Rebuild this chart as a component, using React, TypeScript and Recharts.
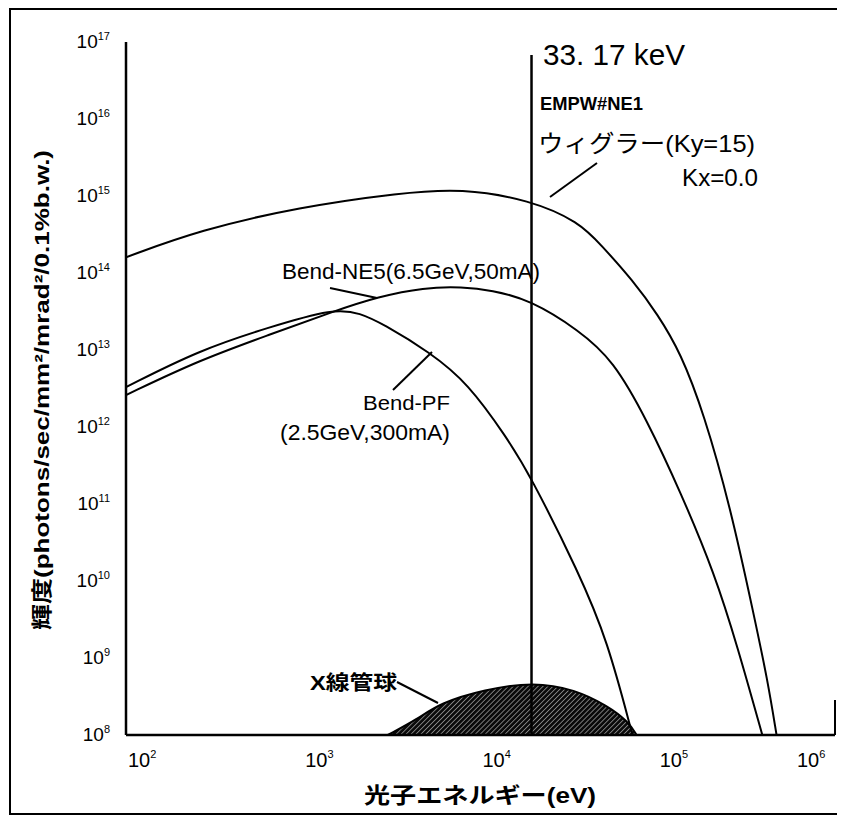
import {
  ComposedChart,
  Line,
  Area,
  XAxis,
  YAxis,
  ReferenceLine,
} from "recharts";

// photon energy (eV) and brightness values
const wigglerE = [100, 260, 950, 3550, 7800, 19000, 36000, 48000, 72000, 100000, 135000, 182000, 257000, 347000, 417000, 468000];
const wigglerB = [1.6e14, 3.6e14, 7.2e14, 1.1e15, 1.26e15, 8.9e14, 4.6e14, 2.3e14, 8.1e13, 2.9e13, 9.1e12, 1.5e12, 9.1e10, 3.8e9, 5.1e8, 1e8];

const ne5E = [100, 260, 630, 1550, 2630, 4800, 7900, 11500, 19000, 36000, 56000, 87000, 135000, 209000, 282000, 389000];
const ne5B = [2.6e12, 7.4e12, 1.55e13, 3.3e13, 4.9e13, 6.5e13, 6.6e13, 6.0e13, 4.5e13, 1.8e13, 7.4e12, 1.23e12, 1.4e11, 1.26e10, 1.4e9, 1e8];

const pfE = [100, 260, 630, 1500, 2100, 2800, 5200, 8500, 14000, 19000, 36000, 52000, 72000];
const pfB = [3.3e12, 1.0e13, 1.95e13, 3.5e13, 3.0e13, 2.2e13, 9.3e12, 3.7e12, 7.4e11, 2.4e11, 1.26e10, 1.7e9, 1e8];

const tubeE = [3000, 4400, 5900, 10500, 20000, 34000, 52000, 68000, 76000];
const tubeB = [1e8, 1.6e8, 2.6e8, 3.9e8, 4.9e8, 3.9e8, 2.4e8, 1.5e8, 1e8];

const energyTicks = [1e2, 1e3, 1e4, 1e5, 1e6];
const brightTicks = [1e8, 1e9, 1e10, 1e11, 1e12, 1e13, 1e14, 1e15, 1e16, 1e17];

const markerE = 19400; // "33.17 keV" line as drawn

const zip = (es: number[], bs: number[]) => es.map((e, i) => ({ e, b: bs[i] }));
const wigglerData = zip(wigglerE, wigglerB);
const ne5Data = zip(ne5E, ne5B);
const pfData = zip(pfE, pfB);
const tubeData = zip(tubeE, tubeB);

const font = "'Liberation Sans', Arial, 'Noto Sans CJK JP', sans-serif";

function XTick(props: any) {
  const { x, y, payload } = props;
  const exp = Math.round(Math.log10(payload.value));
  const tx = exp === 6 ? x - 38 : x + 2;
  return (
    <text x={tx} y={y + 24} fontSize={20} fontFamily={font} fill="#000">
      10
      <tspan dy={-9} fontSize={11}>{exp}</tspan>
    </text>
  );
}

function YTick(props: any) {
  const { x, y, payload } = props;
  const exp = Math.round(Math.log10(payload.value));
  return (
    <text x={x - 8} y={y + 6} fontSize={19} fontFamily={font} fill="#000" textAnchor="end">
      10
      <tspan dy={-8} fontSize={11}>{exp}</tspan>
    </text>
  );
}

export default function App() {
  return (
    <div style={{ position: "relative", width: 832, height: 808, background: "#fff" }}>
      <ComposedChart
        width={832}
        height={808}
        margin={{ top: 34, right: 5, bottom: 41, left: 0 }}
      >
        <defs>
          <pattern
            id="hatch"
            width="3.5"
            height="3.5"
            patternUnits="userSpaceOnUse"
            patternTransform="rotate(45)"
          >
            <rect width="3.5" height="3.5" fill="#0a0a0a" />
            <line x1="0" y1="0" x2="0" y2="3.5" stroke="#fff" strokeWidth={0.9} />
          </pattern>
        </defs>

        <XAxis
          dataKey="e"
          type="number"
          scale="log"
          domain={[1e2, 1e6]}
          ticks={energyTicks}
          interval={0}
          allowDataOverflow
          height={40}
          tickLine={false}
          axisLine={{ stroke: "#000", strokeWidth: 2.5 }}
          tick={XTick}
        />
        <YAxis
          type="number"
          scale="log"
          domain={[1e8, 1e17]}
          ticks={brightTicks}
          interval={0}
          allowDataOverflow
          width={118}
          tickLine={false}
          axisLine={{ stroke: "#000", strokeWidth: 2.5 }}
          tick={YTick}
        />

        <Area
          data={tubeData}
          dataKey="b"
          type="basis"
          baseValue={1e8}
          fill="url(#hatch)"
          fillOpacity={1}
          stroke="#000"
          strokeWidth={2}
          isAnimationActive={false}
        />
        <Line data={wigglerData} dataKey="b" type="basis" dot={false} stroke="#000" strokeWidth={2} isAnimationActive={false} />
        <Line data={ne5Data} dataKey="b" type="basis" dot={false} stroke="#000" strokeWidth={2} isAnimationActive={false} />
        <Line data={pfData} dataKey="b" type="basis" dot={false} stroke="#000" strokeWidth={2} isAnimationActive={false} />

        <ReferenceLine
          segment={[{ x: markerE, y: 6.8e16 }, { x: markerE, y: 1e8 }]}
          stroke="#000"
          strokeWidth={2.5}
        />
        <ReferenceLine
          segment={[{ x: 1e6, y: 2.85e8 }, { x: 1e6, y: 1e8 }]}
          stroke="#000"
          strokeWidth={2}
        />
      </ComposedChart>

      {/* annotations, frame and axis titles */}
      <svg
        width={832}
        height={808}
        style={{ position: "absolute", left: 0, top: 0, pointerEvents: "none" }}
      >
        <g transform="translate(-8,-8)" fontFamily={font} fill="#000">
          <rect x={10} y={9} width={829} height={805} fill="none" stroke="#000" strokeWidth={2} />

          <text x={543} y={65} fontSize={30} textLength={142} lengthAdjust="spacingAndGlyphs">33. 17 keV</text>
          <text x={540} y={110} fontSize={18} fontWeight="bold" textLength={103} lengthAdjust="spacingAndGlyphs">EMPW#NE1</text>
          <text x={538} y={152} fontSize={24} textLength={217} lengthAdjust="spacingAndGlyphs">ウィグラー(Ky=15)</text>
          <text x={682} y={186} fontSize={24} textLength={76} lengthAdjust="spacingAndGlyphs">Kx=0.0</text>
          <line x1={597} y1={163} x2={550} y2={197} stroke="#000" strokeWidth={2} />

          <text x={282} y={279} fontSize={22} textLength={258} lengthAdjust="spacingAndGlyphs">Bend-NE5(6.5GeV,50mA)</text>
          <line x1={330} y1={288} x2={377} y2={298} stroke="#000" strokeWidth={2} />

          <text x={363} y={410} fontSize={20} textLength={87} lengthAdjust="spacingAndGlyphs">Bend-PF</text>
          <text x={280} y={440} fontSize={22} textLength={170} lengthAdjust="spacingAndGlyphs">(2.5GeV,300mA)</text>
          <line x1={393} y1={390} x2={432} y2={352} stroke="#000" strokeWidth={2} />

          <text x={310} y={690} fontSize={20} fontWeight="bold" textLength={87} lengthAdjust="spacingAndGlyphs">X線管球</text>
          <line x1={397} y1={682} x2={438} y2={703} stroke="#000" strokeWidth={2} />

          <text x={480} y={803} fontSize={22} fontWeight="bold" textAnchor="middle" textLength={232} lengthAdjust="spacingAndGlyphs">光子エネルギー(eV)</text>
          <text
            x={0}
            y={0}
            fontSize={21}
            fontWeight="bold"
            textAnchor="middle"
            textLength={480}
            lengthAdjust="spacingAndGlyphs"
            transform="translate(49,390) rotate(-90)"
          >
            輝度(photons/sec/mm²/mrad²/0.1%b.w.)
          </text>
        </g>
      </svg>
    </div>
  );
}
